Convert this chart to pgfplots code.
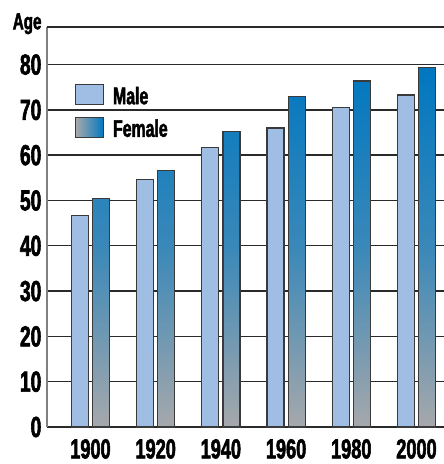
\documentclass[border=0pt]{standalone}
\usepackage{fontspec}
\newfontfamily\cnd[FakeStretch=0.66, FakeBold=2]{Liberation Sans Bold}
\usepackage{pgfplots}
\pgfplotsset{compat=1.18}
\definecolor{maleblue}{HTML}{A0BEE4}
\definecolor{fblue}{HTML}{0077C0}
\definecolor{fgray}{HTML}{A6A8AB}
\definecolor{edge}{HTML}{3A3A3A}
\definecolor{gridc}{HTML}{2A2A2A}
\definecolor{spine}{HTML}{808080}
\begin{document}
\begin{tikzpicture}
\useasboundingbox (-47pt,-37pt) rectangle (397pt,427pt);
\begin{axis}[
  name=ax, at={(0,0)}, anchor=south west,
  scale only axis, width=397pt, height=400pt,
  xmin=-0.667, xmax=5.422, ymin=0, ymax=88.3,
  xtick={0,1,2,3,4,5},
  xticklabels={1900,1920,1940,1960,1980,2000},
  ytick={0,10,20,30,40,50,60,70,80},
  extra y ticks={88.3}, extra y tick labels={},
  extra y tick style={grid=major},
  major tick length=0pt,
  ymajorgrids,
  major grid style={gridc, line width=1.4pt},
  axis x line*=bottom, axis y line*=left,
  x axis line style={gridc, line width=1.4pt, -},
  y axis line style={spine, line width=1.6pt, -},
  /pgf/number format/assume math mode=true,
  yticklabel style={font=\cnd\fontsize{29}{29}\selectfont, inner sep=0pt, xshift=-5.5pt},
  xticklabel style={font=\cnd\fontsize{27.5}{27.5}\selectfont, inner sep=0pt, yshift=-12pt},
  legend cell align=left,
  legend style={at={(rel axis cs:0.0705,0.8575)}, anchor=north west,
    draw=none, fill=none, inner sep=0pt, row sep=11pt, column sep=8.7pt,
    font=\cnd\fontsize{24}{24}\selectfont, nodes={inner sep=0pt}},
]
\addplot[ybar, bar width=0.2607, bar shift=-0.1626, draw=edge, line width=1.2pt, fill=maleblue,
  legend image code/.code={\draw[fill=maleblue, draw=edge, line width=1.2pt] (0pt,-8.5pt) rectangle (28pt,11.5pt);}]
  coordinates {(0,46.6) (1,54.7) (2,61.7) (3,66.0) (4,70.6) (5,73.3)};
\addlegendentry{Male}
\addplot[ybar, bar width=0.2607, bar shift=0.1626, draw=edge, line width=1.2pt,
  top color=fblue, bottom color=fgray, middle color=fblue!65!fgray,
  legend image code/.code={\draw[left color=fgray, right color=fblue, draw=edge, line width=1.2pt] (0pt,-8.5pt) rectangle (28pt,11.5pt);}]
  coordinates {(0,50.5) (1,56.7) (2,65.2) (3,73.0) (4,76.4) (5,79.3)};
\addlegendentry{Female}
\end{axis}
\node[anchor=base east, inner sep=0pt, font=\cnd\fontsize{23}{23}\selectfont] at ([xshift=-5.3pt, yshift=-2.3pt]ax.north west) {Age};
\end{tikzpicture}
\end{document}
